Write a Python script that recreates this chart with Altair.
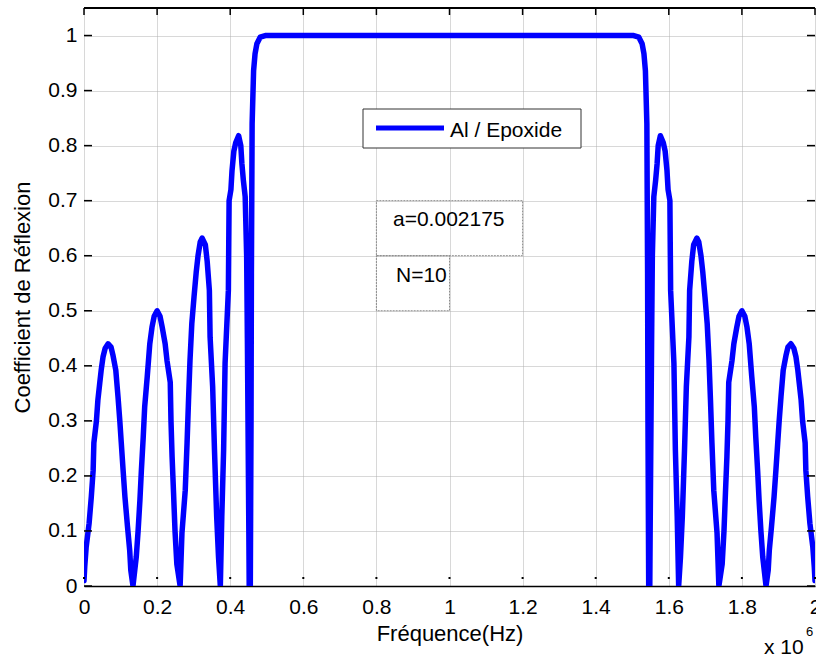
import altair as alt
import pandas as pd

FONT = "Liberation Sans"

# Frequency in units of 1e6 Hz, reflection coefficient
freq = [
    0.000, 0.002, 0.006, 0.014, 0.020, 0.025, 0.027, 0.034, 0.038, 0.043, 0.047, 0.052, 0.058, 0.066,
    0.074, 0.079, 0.087, 0.093, 0.098, 0.102, 0.107, 0.112, 0.119, 0.125, 0.128, 0.134,
    0.143, 0.148, 0.153, 0.157, 0.162, 0.166, 0.173, 0.180, 0.186, 0.192, 0.200,
    0.208, 0.214, 0.222, 0.227, 0.236, 0.238, 0.241, 0.245, 0.249, 0.254, 0.263,
    0.268, 0.277, 0.282, 0.286, 0.290, 0.295, 0.301, 0.307, 0.312, 0.318, 0.323,
    0.332, 0.337, 0.343, 0.345, 0.352, 0.357, 0.363, 0.368, 0.373,
    0.377, 0.382, 0.386, 0.395, 0.397, 0.402, 0.405, 0.410, 0.415, 0.423,
    0.429, 0.432, 0.436, 0.441, 0.445, 0.447, 0.451, 0.452,
    0.455, 0.457, 0.458, 0.459, 0.460, 0.464, 0.468, 0.473, 0.482, 0.496,
    1.504, 1.518, 1.527, 1.532, 1.536, 1.540, 1.541, 1.542, 1.543, 1.545,
    1.548, 1.549, 1.553, 1.555, 1.559, 1.564, 1.568, 1.571, 1.577,
    1.585, 1.590, 1.595, 1.598, 1.603, 1.605, 1.614, 1.618, 1.623, 1.627,
    1.632, 1.637, 1.643, 1.648, 1.655, 1.657, 1.663, 1.668, 1.677,
    1.682, 1.688, 1.693, 1.699, 1.705, 1.710, 1.714, 1.718, 1.723, 1.732, 1.737,
    1.746, 1.751, 1.755, 1.759, 1.762, 1.764, 1.773, 1.778, 1.786, 1.792, 1.800,
    1.808, 1.814, 1.820, 1.827, 1.834, 1.838, 1.843, 1.847, 1.852, 1.857, 1.866,
    1.872, 1.875, 1.881, 1.888, 1.893, 1.898, 1.902, 1.907, 1.913, 1.921, 1.926, 1.934,
    1.942, 1.948, 1.953, 1.957, 1.962, 1.966, 1.973, 1.975, 1.980, 1.986, 1.994, 1.998, 2.000,
]
refl = [
    0.010, 0.035, 0.071, 0.114, 0.162, 0.210, 0.260, 0.300, 0.338, 0.368, 0.392, 0.416, 0.432, 0.440,
    0.434, 0.420, 0.392, 0.344, 0.300, 0.260, 0.210, 0.162, 0.108, 0.065, 0.029, 0.000,
    0.053, 0.100, 0.156, 0.210, 0.270, 0.325, 0.380, 0.440, 0.470, 0.490, 0.500,
    0.490, 0.470, 0.440, 0.410, 0.370, 0.300, 0.235, 0.169, 0.100, 0.040, 0.000,
    0.096, 0.174, 0.260, 0.338, 0.410, 0.477, 0.525, 0.570, 0.600, 0.625, 0.632,
    0.620, 0.590, 0.537, 0.452, 0.362, 0.247, 0.126, 0.053, 0.000,
    0.126, 0.247, 0.405, 0.537, 0.700, 0.720, 0.755, 0.790, 0.805, 0.818,
    0.800, 0.767, 0.737, 0.707, 0.600, 0.450, 0.100, 0.000,
    0.000, 0.300, 0.568, 0.700, 0.840, 0.936, 0.967, 0.985, 0.997, 1.000,
    1.000, 0.997, 0.985, 0.967, 0.936, 0.840, 0.700, 0.568, 0.300, 0.000,
    0.000, 0.100, 0.450, 0.600, 0.707, 0.737, 0.767, 0.800, 0.818,
    0.805, 0.790, 0.755, 0.720, 0.700, 0.537, 0.405, 0.247, 0.126, 0.000,
    0.053, 0.126, 0.247, 0.362, 0.452, 0.537, 0.590, 0.620, 0.632,
    0.625, 0.600, 0.570, 0.525, 0.477, 0.410, 0.338, 0.260, 0.174, 0.096, 0.000,
    0.040, 0.100, 0.169, 0.235, 0.300, 0.370, 0.410, 0.440, 0.470, 0.490, 0.500,
    0.490, 0.470, 0.440, 0.380, 0.325, 0.270, 0.210, 0.156, 0.100, 0.053, 0.000,
    0.029, 0.065, 0.108, 0.162, 0.210, 0.260, 0.300, 0.344, 0.392, 0.420, 0.434, 0.440,
    0.432, 0.416, 0.392, 0.368, 0.338, 0.300, 0.260, 0.210, 0.162, 0.114, 0.071, 0.035, 0.010,
]

x_ticks = [0, 0.2, 0.4, 0.6, 0.8, 1, 1.2, 1.4, 1.6, 1.8, 2]
y_ticks = [0, 0.1, 0.2, 0.3, 0.4, 0.5, 0.6, 0.7, 0.8, 0.9, 1]

legend_label = ["Al / Epoxide"]
note_a = ["a=0.002175"]
note_n = ["N=10"]

# annotation boxes (x0, x1, y0, y1) in data units
box_x0 = [0.8, 0.8]
box_x1 = [1.2, 1.0]
box_y0 = [0.6, 0.5]
box_y1 = [0.7, 0.6]

W, H = 731, 578

df = pd.DataFrame({"f": freq, "r": refl, "i": list(range(len(freq)))})
xs = alt.Scale(domain=[0, 2], nice=False, zero=False)
ys = alt.Scale(domain=[0, 1.05], nice=False, zero=False)

XA = alt.Axis(
    values=x_ticks, format="~g", title="Fréquence(Hz)", grid=True,
    gridDash=[1, 1], gridColor="#b0b0b0", ticks=False, domain=True,
    domainColor="black", domainWidth=1.5, labelFlush=False, labelOverlap=False,
    labelFont=FONT, labelFontSize=21, labelPadding=10, labelColor="black",
    titleFont=FONT, titleFontSize=22, titleFontWeight="normal", titleColor="black",
    titleY=54, titleBaseline="alphabetic", titleX=W / 2, titleAlign="center",
)
YA = alt.Axis(
    values=y_ticks, format="~g", title="Coefficient de Réflexion", grid=True,
    gridDash=[1, 1], gridColor="#b0b0b0", ticks=False, domain=False,
    labelFlush=False, labelOverlap=False,
    labelFont=FONT, labelFontSize=21, labelPadding=7, labelColor="black",
    titleFont=FONT, titleFontSize=22, titleFontWeight="normal", titleColor="black",
    titleAngle=270, titleX=-55, titleY=(297 - 8), titleAlign="center",
    titleBaseline="alphabetic",
)

line = alt.Chart(df).mark_line(
    color="#0000ff", strokeWidth=5.5, strokeJoin="round", strokeCap="round", clip=True
).encode(
    x=alt.X("f:Q", scale=xs, axis=XA),
    y=alt.Y("r:Q", scale=ys, axis=YA),
    order="i:Q",
)

boxes = alt.Chart(pd.DataFrame({"x0": box_x0, "x1": box_x1, "y0": box_y0, "y1": box_y1})).mark_rect(
    fill=None, stroke="#8c8c8c", strokeWidth=1, strokeDash=[2, 1]
).encode(
    x=alt.X("x0:Q", scale=xs, axis=XA), x2="x1:Q",
    y=alt.Y("y0:Q", scale=ys, axis=YA), y2="y1:Q",
)

xt = pd.DataFrame({"t": x_ticks})
yt = pd.DataFrame({"t": y_ticks})

top_ticks = alt.Chart(xt).mark_rule(color="black", strokeWidth=1.5).encode(
    x=alt.X("t:Q", scale=xs, axis=XA), y=alt.value(0), y2=alt.value(7))
bot_ticks = alt.Chart(xt).mark_rule(color="black", strokeWidth=2).encode(
    x=alt.X("t:Q", scale=xs, axis=XA), y=alt.value(569), y2=alt.value(571))
left_ticks = alt.Chart(yt).mark_rule(color="black", strokeWidth=1.5).encode(
    y=alt.Y("t:Q", scale=ys, axis=YA), x=alt.value(0), x2=alt.value(8))
right_ticks = alt.Chart(yt).mark_rule(color="black", strokeWidth=1.5).encode(
    y=alt.Y("t:Q", scale=ys, axis=YA), x=alt.value(W - 8), x2=alt.value(W))
top_border = alt.Chart(xt).mark_rule(color="black", strokeWidth=1.5).encode(
    x=alt.value(0), x2=alt.value(W), y=alt.value(0))

leg_box = alt.Chart(pd.DataFrame({"t": legend_label})).mark_rect(
    fill="white", stroke="#333333", strokeWidth=1
).encode(x=alt.value(279), x2=alt.value(497), y=alt.value(101), y2=alt.value(140))
leg_line = alt.Chart(pd.DataFrame({"t": legend_label})).mark_rule(
    color="#0000ff", strokeWidth=5
).encode(x=alt.value(292), x2=alt.value(360), y=alt.value(120))
leg_text = alt.Chart(pd.DataFrame({"t": legend_label})).mark_text(
    font=FONT, fontSize=21, align="left", baseline="alphabetic", color="black"
).encode(x=alt.value(366), y=alt.value(129), text="t:N")

txt_a = alt.Chart(pd.DataFrame({"t": note_a})).mark_text(
    font=FONT, fontSize=21, align="left", baseline="alphabetic", color="black"
).encode(x=alt.value(309), y=alt.value(218), text="t:N")
txt_n = alt.Chart(pd.DataFrame({"t": note_n})).mark_text(
    font=FONT, fontSize=21, align="left", baseline="alphabetic", color="black"
).encode(x=alt.value(312), y=alt.value(274), text="t:N")

x10 = alt.Chart(pd.DataFrame({"t": ["x 10"]})).mark_text(
    font=FONT, fontSize=21, align="left", baseline="alphabetic", color="black"
).encode(x=alt.value(680), y=alt.value(646), text="t:N")
exp6 = alt.Chart(pd.DataFrame({"t": ["6"]})).mark_text(
    font=FONT, fontSize=13, align="left", baseline="alphabetic", color="black"
).encode(x=alt.value(722), y=alt.value(628), text="t:N")

chart = alt.layer(
    line, boxes, top_border, top_ticks, bot_ticks, left_ticks, right_ticks,
    leg_box, leg_line, leg_text, txt_a, txt_n, x10, exp6,
).properties(
    width=W, height=H,
    padding={"left": 84, "top": 8, "right": 1, "bottom": 73},
    autosize=alt.AutoSizeParams(type="none"),
    background="white",
).configure_view(stroke=None)

chart.save("out.html", embed_options={"renderer": "svg", "actions": False})
